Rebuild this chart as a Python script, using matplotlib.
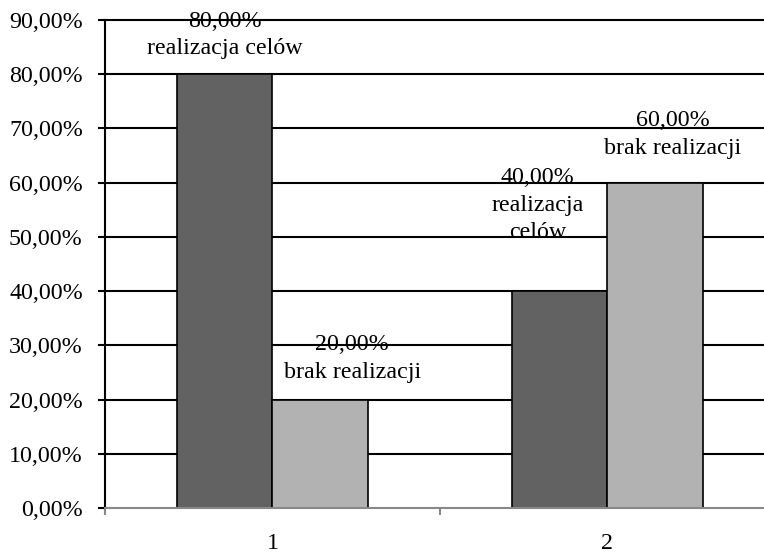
import matplotlib
matplotlib.use("Agg")
import matplotlib.pyplot as plt
import numpy as np

categories = ["1", "2"]
realizacja = [80.0, 40.0]
brak = [20.0, 60.0]
series_names = ["realizacja celów", "brak realizacji"]
yticks = [0, 10, 20, 30, 40, 50, 60, 70, 80, 90]

plt.rcParams['font.family'] = ['Liberation Serif', 'DejaVu Serif']

fig = plt.figure(figsize=(7.64, 5.54), dpi=100)
ax = fig.add_axes([105/764, 1-508/554, (774.5-105)/764, (508-20)/554])

x = np.arange(len(categories))
w = 0.285
c_dark = "#626262"
c_light = "#b2b2b2"
fs = 17.3

for yv in yticks[1:]:
    ax.axhline(yv, color="black", lw=1.5, zorder=1, clip_on=False)

b1 = ax.bar(x - w/2, realizacja, w, color=c_dark, edgecolor="black", lw=1.2, zorder=2)
b2 = ax.bar(x + w/2, brak, w, color=c_light, edgecolor="black", lw=1.2, zorder=2)

ax.set_xlim(-0.5, 1.5)
ax.set_ylim(0, 90)
ax.set_yticks(yticks)
ax.set_yticklabels([f"{v:.2f}".replace(".", ",") + "%" for v in yticks])
ax.set_xticks(x)
ax.set_xticklabels(categories)
ax.set_xticks([-0.5, 0.5, 1.5], minor=True)

for s in ["top", "right"]:
    ax.spines[s].set_visible(False)
ax.spines["left"].set_color("black")
ax.spines["left"].set_linewidth(1.5)
ax.spines["bottom"].set_color("#888888")
ax.spines["bottom"].set_linewidth(1.5)
ax.spines["bottom"].set_zorder(3)

ax.tick_params(axis="y", direction="out", length=5, width=1.5, color="black", pad=11, labelsize=fs)
ax.tick_params(axis="x", which="major", length=0, pad=18, labelsize=fs)
ax.tick_params(axis="x", which="minor", direction="out", length=5, width=1.5, color="#888888")

# data labels: offsets in pixels (x, y of text block center relative to bar top)
offsets = {
    (0, 0): (0, 39),
    (0, 1): (32, 41),
    (1, 0): (-22, 86),
    (1, 1): (18, 48),
}
for si, (bars, vals, name) in enumerate([(b1, realizacja, series_names[0]), (b2, brak, series_names[1])]):
    for ci, (bar, v) in enumerate(zip(bars, vals)):
        txt_name = name
        if ci == 1 and si == 0:
            txt_name = "realizacja\ncelów"
        label = f"{v:.2f}".replace(".", ",") + "%\n" + txt_name
        dx, dy = offsets[(ci, si)]
        ax.annotate(label, xy=(bar.get_x() + bar.get_width()/2, v),
                    xytext=(dx, dy), textcoords="offset pixels",
                    ha="center", va="center", fontsize=fs, linespacing=1.4,
                    zorder=5)

fig.savefig("out.png", dpi=100)
